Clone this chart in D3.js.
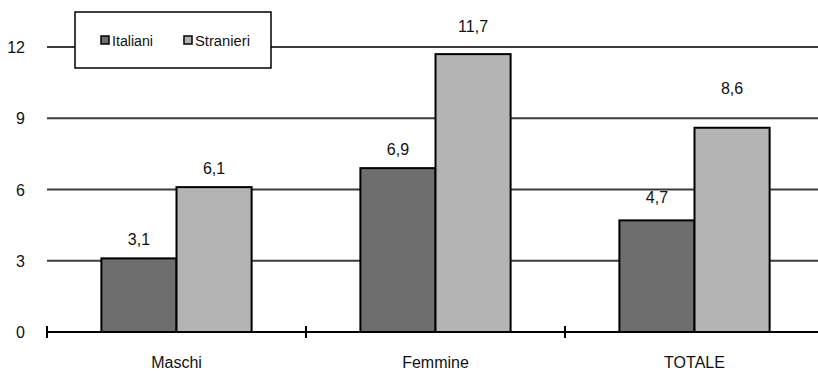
<!DOCTYPE html>
<html>
<head>
<meta charset="utf-8">
<script src="https://cdn.jsdelivr.net/npm/d3@7"></script>
<style>
  body { margin: 0; background: #fff; }
  text { font-family: Arial, "Liberation Sans", sans-serif; }
</style>
</head>
<body>
<div id="chart"></div>
<script>
const categories = ["Maschi", "Femmine", "TOTALE"];
const seriesNames = ["Italiani", "Stranieri"];
const italiani = [3.1, 6.9, 4.7];
const stranieri = [6.1, 11.7, 8.6];
const yTicks = [0, 3, 6, 9, 12];
const colors = ["#6e6e6e", "#b4b4b4"];
// extra lift (px) of the value labels, as placed in the original
const labelLift = [[0, 0], [0, 9], [4, 21]];

const width = 818, height = 375;
const svg = d3.select("#chart").append("svg")
    .attr("width", width)
    .attr("height", height);

// plot area
const margin = {left: 47, right: 824, top: 47, bottom: 332};

const x0 = d3.scaleBand()
    .domain(categories)
    .range([margin.left, margin.right])
    .paddingInner(0.42)
    .paddingOuter(0.21);

const x1 = d3.scaleBand()
    .domain(seriesNames)
    .range([0, x0.bandwidth()]);

const y = d3.scaleLinear()
    .domain([0, 12])
    .range([margin.bottom, margin.top]);

// gridlines
svg.append("g")
    .selectAll("line")
    .data(yTicks.filter(d => d > 0))
    .join("line")
    .attr("x1", margin.left)
    .attr("x2", width)
    .attr("y1", d => y(d))
    .attr("y2", d => y(d))
    .attr("stroke", "#3c3c3c")
    .attr("stroke-width", 2);

// y labels
svg.append("g")
    .selectAll("text")
    .data(yTicks)
    .join("text")
    .attr("x", 25)
    .attr("y", d => y(d) + 6)
    .attr("text-anchor", "end")
    .attr("font-size", 16)
    .attr("fill", "#111")
    .text(d => d);

// bars
const data = categories.map((c, i) => ({cat: c, i: i, vals: [italiani[i], stranieri[i]]}));

const groups = svg.append("g")
    .selectAll("g")
    .data(data)
    .join("g")
    .attr("transform", d => `translate(${x0(d.cat)},0)`);

groups.selectAll("rect")
    .data(d => d.vals.map((v, j) => ({name: seriesNames[j], v: v, j: j})))
    .join("rect")
    .attr("x", d => x1(d.name))
    .attr("y", d => y(d.v))
    .attr("width", x1.bandwidth())
    .attr("height", d => margin.bottom - y(d.v))
    .attr("fill", d => colors[d.j])
    .attr("stroke", "#000")
    .attr("stroke-width", 2);

groups.selectAll("text")
    .data(d => d.vals.map((v, j) => ({name: seriesNames[j], v: v, lift: labelLift[d.i][j]})))
    .join("text")
    .attr("x", d => x1(d.name) + x1.bandwidth() / 2)
    .attr("y", d => y(d.v) - 13 - d.lift)
    .attr("text-anchor", "middle")
    .attr("font-size", 16)
    .attr("fill", "#111")
    .text(d => d3.format(".1f")(d.v).replace(".", ","));

// x axis
svg.append("line")
    .attr("x1", margin.left)
    .attr("x2", width)
    .attr("y1", margin.bottom)
    .attr("y2", margin.bottom)
    .attr("stroke", "#000")
    .attr("stroke-width", 2);

const tickXs = categories.map(c => x0(c) - x0.step() * x0.paddingInner() / 2);
svg.append("g")
    .selectAll("line")
    .data(tickXs)
    .join("line")
    .attr("x1", d => d)
    .attr("x2", d => d)
    .attr("y1", margin.bottom - 6)
    .attr("y2", margin.bottom + 6)
    .attr("stroke", "#000")
    .attr("stroke-width", 2);

svg.append("g")
    .selectAll("text")
    .data(categories)
    .join("text")
    .attr("x", d => x0(d) + x0.bandwidth() / 2)
    .attr("y", 368)
    .attr("text-anchor", "middle")
    .attr("font-size", 16)
    .attr("fill", "#111")
    .text(d => d);

// legend
const legend = svg.append("g").attr("transform", "translate(75,12)");
legend.append("rect")
    .attr("width", 196)
    .attr("height", 56)
    .attr("fill", "#fff")
    .attr("stroke", "#000")
    .attr("stroke-width", 1.5);

const legX = [26, 109];
seriesNames.forEach((name, i) => {
    legend.append("rect")
        .attr("x", legX[i])
        .attr("y", 24)
        .attr("width", 8)
        .attr("height", 8)
        .attr("fill", colors[i])
        .attr("stroke", "#000")
        .attr("stroke-width", 1.5);
    legend.append("text")
        .attr("x", legX[i] + 11)
        .attr("y", 34)
        .attr("font-size", 14)
        .attr("textLength", i === 0 ? 41 : 55)
        .attr("lengthAdjust", "spacingAndGlyphs")
        .attr("fill", "#111")
        .text(name);
});
</script>
</body>
</html>
